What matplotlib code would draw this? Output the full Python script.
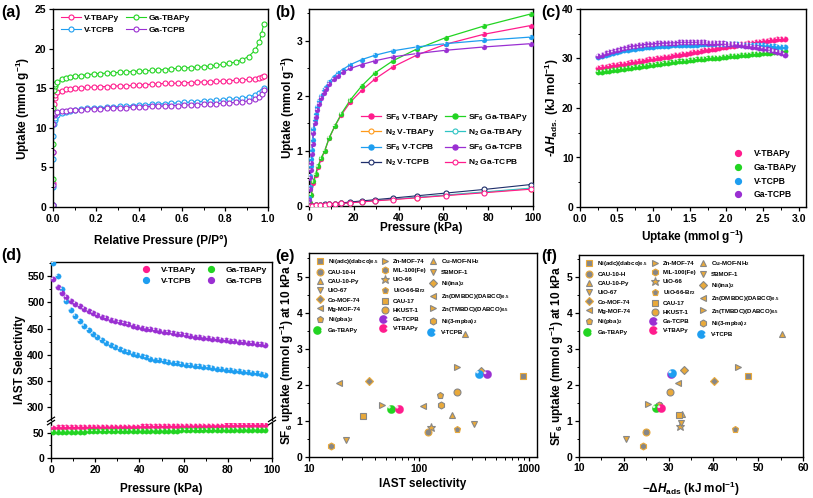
"""
Six-panel figure: N2 / SF6 isotherms, heat of adsorption, IAST selectivity,
and comparison with reported MOFs.
"""

import numpy as np
import matplotlib
matplotlib.use("Agg")
import matplotlib.pyplot as plt
from matplotlib.lines import Line2D
from matplotlib.transforms import offset_copy
from matplotlib.legend_handler import HandlerTuple
from matplotlib.ticker import MultipleLocator, LogLocator, NullFormatter

# ---------------------------------------------------------------------------
# Data
# ---------------------------------------------------------------------------
# (a) N2 77 K isotherms
P_a = [0.0001, 0.0005, 0.001, 0.002, 0.004, 0.007, 0.01, 0.02, 0.04, 0.06,
       0.08, 0.10, 0.13, 0.16, 0.19, 0.22, 0.25, 0.28, 0.31, 0.34, 0.37, 0.40,
       0.43, 0.46, 0.49, 0.52, 0.55, 0.58, 0.61, 0.64, 0.67, 0.70, 0.73, 0.76,
       0.79, 0.82, 0.85, 0.88, 0.91, 0.94, 0.96, 0.97, 0.98]
a_v_tbapy = [0.3, 3.0, 7.0, 11.0, 13.0, 13.8, 14.1, 14.5, 14.7, 14.85, 14.95,
             15.0, 15.05, 15.1, 15.15, 15.2, 15.2, 15.25, 15.3, 15.3, 15.35,
             15.4, 15.45, 15.5, 15.55, 15.6, 15.6, 15.65, 15.7, 15.7, 15.75,
             15.8, 15.8, 15.85, 15.9, 15.95, 16.0, 16.05, 16.1, 16.2, 16.3,
             16.4, 16.5]
a_ga_tbapy = [0.3, 3.5, 8.0, 12.5, 14.8, 15.3, 15.5, 15.8, 16.1, 16.3, 16.4,
              16.5, 16.6, 16.7, 16.8, 16.85, 16.9, 16.95, 17.0, 17.05, 17.1,
              17.15, 17.2, 17.25, 17.3, 17.35, 17.45, 17.5, 17.55, 17.6, 17.65,
              17.7, 17.8, 17.9, 18.0, 18.15, 18.3, 18.6, 19.0, 19.8, 20.8,
              21.9, 23.1]
a_v_tcpb = [0.2, 2.5, 6.0, 9.0, 10.5, 11.0, 11.3, 11.6, 11.9, 12.05, 12.15,
            12.25, 12.35, 12.45, 12.5, 12.55, 12.6, 12.65, 12.7, 12.75, 12.8,
            12.85, 12.9, 12.95, 13.0, 13.05, 13.1, 13.15, 13.2, 13.25, 13.3,
            13.35, 13.4, 13.45, 13.5, 13.6, 13.65, 13.75, 13.9, 14.15, 14.4,
            14.7, 15.0]
a_ga_tcpb = [0.2, 2.8, 7.0, 10.5, 11.6, 11.8, 11.9, 12.0, 12.1, 12.15, 12.2,
             12.25, 12.3, 12.35, 12.4, 12.4, 12.45, 12.5, 12.5, 12.55, 12.6,
             12.6, 12.65, 12.7, 12.7, 12.75, 12.8, 12.8, 12.85, 12.9, 12.9,
             12.95, 13.0, 13.05, 13.1, 13.15, 13.2, 13.3, 13.4, 13.6, 13.9,
             14.3, 14.8]

# (b) SF6 / N2 298 K isotherms
P_tb = [0.3, 1.0, 2.0, 3.0, 4.0, 5.5, 7.0, 9.0, 11.5, 14.5, 18.5, 23.5, 29.5,
        37.5, 48, 61, 78, 99]
sf6_v_tbapy = [0.05, 0.2, 0.42, 0.56, 0.7, 0.85, 1.0, 1.23, 1.45, 1.66, 1.89,
               2.1, 2.31, 2.53, 2.74, 2.94, 3.12, 3.28]
sf6_ga_tbapy = [0.05, 0.2, 0.45, 0.59, 0.72, 0.88, 1.0, 1.24, 1.45, 1.68, 1.93,
                2.18, 2.42, 2.64, 2.85, 3.06, 3.27, 3.49]
P_tc = [0.2, 0.4, 0.6, 0.8, 1.0, 1.3, 1.6, 2.0, 2.5, 3.0, 3.7, 4.5, 5.5, 6.5,
        7.5, 9.0, 11.0, 13.0, 15.0, 18.5, 23.5, 29.5, 37.5, 48, 61, 78, 99]
sf6_v_tcpb = [0.15, 0.35, 0.55, 0.72, 0.85, 1.02, 1.2, 1.4, 1.56, 1.68, 1.8,
              1.9, 2.0, 2.1, 2.17, 2.25, 2.35, 2.42, 2.48, 2.57, 2.66, 2.74,
              2.82, 2.89, 2.95, 3.01, 3.07]
sf6_ga_tcpb = [0.1, 0.3, 0.5, 0.65, 0.78, 0.95, 1.12, 1.33, 1.5, 1.62, 1.74,
               1.85, 1.96, 2.05, 2.12, 2.21, 2.3, 2.37, 2.43, 2.5, 2.57, 2.64,
               2.71, 2.77, 2.83, 2.89, 2.95]
P_n2 = [0.5, 1.5, 3, 5, 7, 9, 11.5, 14.5, 18.5, 23.5, 29.5, 37.5, 48, 61, 78, 99]
n2_v_tbapy = [0.002, 0.005, 0.01, 0.017, 0.023, 0.03, 0.037, 0.047, 0.06,
              0.076, 0.095, 0.12, 0.152, 0.193, 0.247, 0.315]
n2_ga_tbapy = [0.002, 0.005, 0.01, 0.017, 0.024, 0.031, 0.039, 0.049, 0.062,
               0.079, 0.099, 0.125, 0.158, 0.2, 0.255, 0.325]
n2_v_tcpb = [0.002, 0.006, 0.012, 0.02, 0.028, 0.035, 0.045, 0.057, 0.072,
             0.092, 0.115, 0.145, 0.185, 0.235, 0.3, 0.39]
n2_ga_tcpb = [0.002, 0.005, 0.01, 0.016, 0.022, 0.029, 0.036, 0.046, 0.058,
              0.074, 0.092, 0.117, 0.148, 0.188, 0.24, 0.305]

# (c) isosteric heat vs uptake
U_c = np.round(np.arange(0.25, 2.801, 0.05), 2)
qst_v_tbapy = [28.1, 28.2, 28.3, 28.4, 28.6, 28.7, 28.8, 28.9, 29.0, 29.2,
               29.3, 29.4, 29.5, 29.7, 29.8, 29.9, 30.0, 30.2, 30.3, 30.4,
               30.5, 30.7, 30.8, 30.9, 31.0, 31.2, 31.3, 31.4, 31.5, 31.7,
               31.8, 31.9, 32.0, 32.2, 32.3, 32.4, 32.5, 32.6, 32.8, 32.9,
               33.0, 33.1, 33.2, 33.3, 33.4, 33.5, 33.6, 33.7, 33.8, 33.9,
               33.9, 34.0]
qst_ga_tbapy = [27.2, 27.3, 27.4, 27.5, 27.6, 27.7, 27.8, 27.9, 28.0, 28.1,
                28.2, 28.3, 28.4, 28.5, 28.6, 28.7, 28.8, 28.9, 29.0, 29.1,
                29.2, 29.3, 29.4, 29.4, 29.5, 29.6, 29.7, 29.8, 29.9, 29.9,
                30.0, 30.1, 30.2, 30.2, 30.3, 30.4, 30.5, 30.5, 30.6, 30.7,
                30.7, 30.8, 30.9, 30.9, 31.0, 31.1, 31.1, 31.2, 31.3, 31.3,
                31.4, 31.5]
qst_v_tcpb = [30.4, 30.6, 30.8, 31.0, 31.2, 31.4, 31.5, 31.7, 31.8, 31.9,
              32.0, 32.1, 32.2, 32.3, 32.4, 32.4, 32.5, 32.5, 32.6, 32.6,
              32.7, 32.7, 32.7, 32.8, 32.8, 32.8, 32.8, 32.8, 32.9, 32.9,
              32.9, 32.9, 32.9, 32.9, 32.9, 32.9, 32.9, 32.9, 32.9, 32.8,
              32.8, 32.8, 32.8, 32.7, 32.7, 32.7, 32.6, 32.6, 32.5, 32.4,
              32.4, 32.3]
qst_ga_tcpb = [30.5, 30.8, 31.1, 31.4, 31.6, 31.8, 32.0, 32.2, 32.3, 32.5,
               32.6, 32.7, 32.8, 32.9, 33.0, 33.0, 33.1, 33.1, 33.2, 33.2,
               33.2, 33.2, 33.3, 33.3, 33.3, 33.3, 33.3, 33.3, 33.3, 33.3,
               33.2, 33.2, 33.2, 33.1, 33.1, 33.0, 33.0, 32.9, 32.8, 32.7,
               32.6, 32.5, 32.4, 32.3, 32.2, 32.0, 31.9, 31.7, 31.5, 31.3,
               31.1, 30.8]

# (d) IAST selectivity vs pressure
P_d = np.arange(1, 98, 2)
iast_v_tbapy = [60.0, 60.2, 60.3, 60.4, 60.5, 60.6, 60.7, 60.8, 60.9, 61.0,
                61.1, 61.2, 61.3, 61.4, 61.5, 61.6, 61.7, 61.8, 61.9, 62.0,
                62.1, 62.2, 62.3, 62.4, 62.5, 62.6, 62.7, 62.8, 62.9, 63.0,
                63.1, 63.2, 63.3, 63.4, 63.5, 63.6, 63.7, 63.8, 63.9, 64.0,
                64.1, 64.2, 64.3, 64.4, 64.5, 64.6, 64.7, 64.8, 65.0]
iast_ga_tbapy = [51.5, 51.6, 51.7, 51.8, 51.9, 52.0, 52.1, 52.2, 52.3, 52.4,
                 52.5, 52.6, 52.7, 52.8, 52.9, 53.0, 53.1, 53.2, 53.3, 53.4,
                 53.5, 53.6, 53.7, 53.7, 53.8, 53.9, 54.0, 54.1, 54.2, 54.3,
                 54.4, 54.5, 54.6, 54.7, 54.8, 54.9, 55.0, 55.1, 55.2, 55.3,
                 55.4, 55.5, 55.6, 55.7, 55.7, 55.8, 55.9, 55.9, 56.0]
iast_v_tcpb = [575, 550, 525, 502, 486, 474, 464, 455, 447, 440,
               434, 428, 423, 419, 415, 411, 408, 405, 402, 400,
               398, 395, 393, 391, 390, 388, 386, 385, 384, 382,
               381, 380, 379, 378, 377, 376, 375, 374, 373, 372,
               371, 370, 369, 368, 367, 366, 365, 364, 362]
iast_ga_tcpb = [544, 530, 519, 510, 503, 498, 493, 488, 484, 480,
                476, 473, 470, 467, 465, 462, 460, 458, 456, 454,
                452, 450, 449, 447, 446, 444, 443, 441, 440, 439,
                437, 436, 435, 434, 433, 432, 431, 430, 429, 428,
                427, 426, 425, 424, 423, 422, 421, 420, 419]

# (e)/(f) comparison with reported materials
mof_names = ["Ni(adc)(dabco)$_{0.5}$", "CAU-10-H", "CAU-10-Py", "UiO-67",
             "Co-MOF-74", "Mg-MOF-74", "Ni(pba)$_2$", "Zn-MOF-74",
             "MIL-100(Fe)", "UiO-66", "UiO-66-Br$_2$", "CAU-17", "HKUST-1",
             "Cu-MOF-NH$_2$", "SBMOF-1", "Ni(ina)$_2$",
             "Zn(DMBDC)(DABCO)$_{0.5}$", "Zn(TMBDC)(DABCO)$_{0.5}$",
             "Ni(3-mpba)$_2$"]
mof_sel = [887, 121, 198, 21.9, 34.9, 18.7, 155, 46.3, 15.7, 128, 219, 31,
           219, 261, 316, 363, 109, 219, 158]
mof_uptake = [2.24, 0.69, 1.18, 0.48, 2.10, 2.06, 1.71, 1.45, 0.31, 0.84,
              0.78, 1.15, 1.80, 3.42, 0.93, 2.40, 1.43, 2.50, 1.44]
mof_qst = [47.8, 25.0, 33.1, 20.5, 40.1, 32.0, np.nan, 25.3, 24.2, 32.6,
           44.8, 32.4, 30.3, 55.3, 32.7, 33.5, 27.6, 45.5, 27.9]

ours_names = ["Ga-TBAPy", "V-TBAPy", "V-TCPB", "Ga-TCPB"]
ours_sel = [55.5, 65.5, 351, 412]
ours_uptake = [1.34, 1.34, 2.31, 2.29]
ours_qst = [27.1, 28.2, 30.7, 30.5]

# ---------------------------------------------------------------------------
# Style
# ---------------------------------------------------------------------------
plt.rcParams.update({
    "font.family": ["Liberation Sans", "DejaVu Sans"],
    "font.weight": "bold",
    "axes.labelweight": "bold",
    "font.size": 7.5,
    "axes.labelsize": 8.5,
    "axes.linewidth": 1.0,
    "xtick.direction": "out",
    "ytick.direction": "out",
    "xtick.major.size": 3.2,
    "ytick.major.size": 3.2,
    "xtick.minor.size": 1.8,
    "ytick.minor.size": 1.8,
    "xtick.major.width": 0.9,
    "ytick.major.width": 0.9,
    "xtick.minor.width": 0.7,
    "ytick.minor.width": 0.7,
    "xtick.major.pad": 1.5,
    "ytick.major.pad": 1.5,
    "xtick.labelsize": 7.5,
    "ytick.labelsize": 7.5,
    "mathtext.fontset": "custom",
    "mathtext.rm": "Liberation Sans:bold",
    "mathtext.it": "Liberation Sans:italic:bold",
    "mathtext.bf": "Liberation Sans:bold",
    "mathtext.default": "bf",
    "legend.frameon": False,
})

PINK = "#FF1C8D"
GREEN = "#22D422"
BLUE = "#1E9EF0"
PURPLE = "#9A2FD2"
ORANGE = "#FF9A1A"
TEAL = "#2EC4C4"
NAVY = "#1E2E6B"
GOLD = "#E9A93A"
GREY = "#878787"

W, H = 813, 498
fig = plt.figure(figsize=(W / 100, H / 100), dpi=100, facecolor="white")


def px_axes(left, top, right, bottom):
    return fig.add_axes([left / W, 1 - bottom / H, (right - left) / W, (bottom - top) / H])


def spheres(ax, x, y, color, d, z):
    ax.scatter(x, y, s=d ** 2, c=color, edgecolors=color, linewidths=0.2, zorder=z)
    tr = offset_copy(ax.transData, fig=fig, x=-0.2 * d, y=0.2 * d, units="points")
    ax.scatter(x, y, s=(0.33 * d) ** 2, c="white", edgecolors="none", alpha=0.85,
               transform=tr, zorder=z + 0.1)


def sphere_handle(color, ms):
    base = Line2D([], [], ls="None", marker="o", ms=ms, mfc=color, mec=color)
    hl = Line2D([], [], ls="None", marker="o", ms=ms * 0.35, mfc="white", mec="none")
    return (base, hl)


def center_labels(ax, xl=None, yl=None):
    if xl is not None:
        ax.xaxis.label.set_verticalalignment("center")
        ax.xaxis.set_label_coords(0.5, xl)
    if yl is not None:
        ax.yaxis.label.set_verticalalignment("center")
        ax.yaxis.set_label_coords(yl, 0.5)


# ---------------------------------------------------------------------------
# (a)
# ---------------------------------------------------------------------------
ax_a = px_axes(53, 9, 268, 207)
for y, c in [(a_v_tbapy, PINK), (a_ga_tbapy, GREEN), (a_v_tcpb, BLUE), (a_ga_tcpb, PURPLE)]:
    ax_a.plot(P_a, y, "-o", color=c, mfc="white", mec=c, ms=3.6, mew=0.8, lw=0.8)
ax_a.set_xlim(0, 1.0)
ax_a.set_ylim(0, 25)
ax_a.xaxis.set_major_locator(MultipleLocator(0.2))
ax_a.xaxis.set_minor_locator(MultipleLocator(0.1))
ax_a.yaxis.set_major_locator(MultipleLocator(5))
ax_a.yaxis.set_minor_locator(MultipleLocator(2.5))
ax_a.xaxis.set_major_formatter(plt.FuncFormatter(lambda v, p: f"{v:.1f}"))
ax_a.set_xlabel("Relative Pressure (P/P°)")
ax_a.set_ylabel("Uptake (mmol g$^{-1}$)")
center_labels(ax_a, xl=-0.173, yl=-0.14)
h_a = [Line2D([], [], color=c, marker="o", mfc="white", mec=c, ms=3.6, mew=0.8, lw=0.8, label=l)
       for l, c in [("V-TBAPy", PINK), ("V-TCPB", BLUE), ("Ga-TBAPy", GREEN), ("Ga-TCPB", PURPLE)]]
ax_a.legend(handles=h_a, ncol=2, loc="upper left", bbox_to_anchor=(0.02, 0.99),
            fontsize=6, handlelength=2.4, handletextpad=0.4, columnspacing=0.8,
            labelspacing=0.5, borderaxespad=0.2, borderpad=0.2)

# ---------------------------------------------------------------------------
# (b)
# ---------------------------------------------------------------------------
ax_b = px_axes(309, 9, 533, 206)
sf6 = [(P_tb, sf6_v_tbapy, PINK), (P_tb, sf6_ga_tbapy, GREEN),
       (P_tc, sf6_v_tcpb, BLUE), (P_tc, sf6_ga_tcpb, PURPLE)]
for x, y, c in sf6:
    ax_b.plot(x, y, "-", color=c, lw=0.9, zorder=2)
    spheres(ax_b, x, y, c, 3.6, 3)
n2 = [(n2_v_tbapy, ORANGE), (n2_ga_tbapy, TEAL), (n2_v_tcpb, NAVY), (n2_ga_tcpb, PINK)]
for y, c in n2:
    ax_b.plot(P_n2, y, "-o", color=c, mfc="white", mec=c, ms=3.6, mew=0.8, lw=0.8, zorder=4)
ax_b.set_xlim(0, 100)
ax_b.set_ylim(0, 3.58)
ax_b.xaxis.set_major_locator(MultipleLocator(20))
ax_b.xaxis.set_minor_locator(MultipleLocator(10))
ax_b.yaxis.set_major_locator(MultipleLocator(1))
ax_b.yaxis.set_minor_locator(MultipleLocator(0.5))
ax_b.set_xlabel("Pressure (kPa)")
ax_b.set_ylabel("Uptake (mmol g$^{-1}$)")
center_labels(ax_b, xl=-0.113, yl=-0.095)


def filled_h(c, lab):
    return Line2D([], [], color=c, marker="o", mfc=c, mec=c, ms=3.6, lw=0.9, label=lab)


def open_h(c, lab):
    return Line2D([], [], color=c, marker="o", mfc="white", mec=c, ms=3.6, mew=0.8,
                  lw=0.9, label=lab)


h_b = [filled_h(PINK, "SF$_6$ V-TBAPy"), open_h(ORANGE, "N$_2$ V-TBAPy"),
       filled_h(BLUE, "SF$_6$ V-TCPB"), open_h(NAVY, "N$_2$ V-TCPB"),
       filled_h(GREEN, "SF$_6$ Ga-TBAPy"), open_h(TEAL, "N$_2$ Ga-TBAPy"),
       filled_h(PURPLE, "SF$_6$ Ga-TCPB"), open_h(PINK, "N$_2$ Ga-TCPB")]
ax_b.legend(handles=h_b, ncol=2, loc="lower right", bbox_to_anchor=(0.985, 0.185),
            fontsize=6, handlelength=2.4, handletextpad=0.4, columnspacing=0.7,
            labelspacing=0.55, borderaxespad=0.0, borderpad=0.2)

# ---------------------------------------------------------------------------
# (c)
# ---------------------------------------------------------------------------
ax_c = px_axes(580, 9, 806, 207)
for y, c in [(qst_v_tbapy, PINK), (qst_ga_tbapy, GREEN), (qst_v_tcpb, BLUE), (qst_ga_tcpb, PURPLE)]:
    spheres(ax_c, U_c, y, c, 3.9, 3)
ax_c.set_xlim(0, 3.09)
ax_c.set_ylim(0, 40)
ax_c.xaxis.set_major_locator(MultipleLocator(0.5))
ax_c.xaxis.set_minor_locator(MultipleLocator(0.25))
ax_c.yaxis.set_major_locator(MultipleLocator(10))
ax_c.yaxis.set_minor_locator(MultipleLocator(5))
ax_c.xaxis.set_major_formatter(plt.FuncFormatter(lambda v, p: f"{v:.1f}"))
ax_c.set_xlabel("Uptake (mmol g$^{-1}$)")
ax_c.set_ylabel(r"-$\Delta\mathit{H}_{\mathrm{ads.}}$ (kJ mol$^{-1}$)")
center_labels(ax_c, xl=-0.153, yl=-0.124)
h_c = [sphere_handle(c, 4.2) for c in (PINK, GREEN, BLUE, PURPLE)]
ax_c.legend(h_c, ["V-TBAPy", "Ga-TBAPy", "V-TCPB", "Ga-TCPB"], loc="lower right",
            bbox_to_anchor=(0.965, 0.03), fontsize=6.2, handlelength=1.2,
            handletextpad=0.8, labelspacing=0.55, borderaxespad=0, borderpad=0.2,
            handler_map={tuple: HandlerTuple(ndivide=None)})

# ---------------------------------------------------------------------------
# (d) broken y axis
# ---------------------------------------------------------------------------
ax_dt = px_axes(51, 262, 272, 419.5)
ax_db = px_axes(51, 422.5, 272, 458.3)
for ax in (ax_dt, ax_db):
    spheres(ax, P_d, iast_v_tbapy, PINK, 3.9, 3)
    spheres(ax, P_d, iast_ga_tbapy, GREEN, 3.9, 3)
    spheres(ax, P_d, iast_v_tcpb, BLUE, 3.9, 3)
    spheres(ax, P_d, iast_ga_tcpb, PURPLE, 3.9, 3)
    ax.set_xlim(0, 100)
    ax.xaxis.set_major_locator(MultipleLocator(20))
    ax.xaxis.set_minor_locator(MultipleLocator(10))
ax_dt.set_ylim(276.7, 577.2)
ax_db.set_ylim(0, 69.8)
ax_dt.yaxis.set_major_locator(MultipleLocator(50))
ax_dt.yaxis.set_minor_locator(MultipleLocator(25))
ax_db.yaxis.set_major_locator(MultipleLocator(50))
ax_db.yaxis.set_minor_locator(MultipleLocator(25))
ax_dt.spines["bottom"].set_visible(False)
ax_dt.tick_params(axis="x", which="both", bottom=False, labelbottom=False)
ax_db.spines["top"].set_visible(False)
ax_db.set_xlabel("Pressure (kPa)")
center_labels(ax_db, xl=-0.857)
fig.text(20 / W, 1 - 360 / H, "IAST Selectivity", rotation=90, ha="center",
         va="center", fontsize=8.5, fontweight="bold")
for xb in (51, 272):
    for dy in (-1.6, 1.6):
        fig.add_artist(Line2D([(xb - 3.5) / W, (xb + 3.5) / W],
                              [1 - (421 + dy + 2.2) / H, 1 - (421 + dy - 2.2) / H],
                              color="black", lw=0.9, transform=fig.transFigure))
h_d = [sphere_handle(c, 4.2) for c in (PINK, BLUE, GREEN, PURPLE)]
ax_dt.legend(h_d, ["V-TBAPy", "V-TCPB", "Ga-TBAPy", "Ga-TCPB"], ncol=2,
             loc="upper right", bbox_to_anchor=(0.985, 0.985), fontsize=6,
             handlelength=1.2, handletextpad=0.8, columnspacing=1.6,
             labelspacing=0.35, borderaxespad=0, borderpad=0.2,
             handler_map={tuple: HandlerTuple(ndivide=None)})

# ---------------------------------------------------------------------------
# (e) / (f) comparison panels
# ---------------------------------------------------------------------------
mof_marker = ["s", "o", "^", "v", "D", "<", "p", ">", "h", "*", "p", "s", "o",
              "^", "v", "D", "<", ">", "h"]
mof_grey = [True, True, False, False, True, False, False, False, True, False,
            True, False, False, False, False, False, False, False, False]
ours_col = [GREEN, PINK, BLUE, PURPLE]
MS = {"D": 4.0, "*": 6.4}


def comp_panel(ax, xs, ours_x, order):
    for i, name in enumerate(mof_names):
        fc, ec = (GREY, GOLD) if mof_grey[i] else (GOLD, GREY)
        ms = MS.get(mof_marker[i], 5.0)
        ax.plot([xs[i]], [mof_uptake[i]], ls="None", marker=mof_marker[i], ms=ms,
                mfc=fc, mec=ec, mew=0.8, zorder=3)
    for k in order:
        spheres(ax, [ours_x[k]], [ours_uptake[k]], ours_col[k], 6.0, 4 + order.index(k))
    handles, labels = [], []
    for i, name in enumerate(mof_names):
        fc, ec = (GREY, GOLD) if mof_grey[i] else (GOLD, GREY)
        ms = MS.get(mof_marker[i], 5.0)
        handles.append(Line2D([], [], ls="None", marker=mof_marker[i], ms=ms,
                              mfc=fc, mec=ec, mew=0.8))
        labels.append(name)
    sph = {n: sphere_handle(c, 5.2) for n, c in zip(ours_names, ours_col)}
    for pos, n in [(7, "Ga-TBAPy"), (14, "Ga-TCPB"), (15, "V-TBAPy"), (22, "V-TCPB")]:
        handles.insert(pos, sph[n])
        labels.insert(pos, n)
    ax.legend(handles, labels, ncol=3, loc="upper left", bbox_to_anchor=(0.025, 0.985),
              fontsize=4.4, handlelength=1.2, handletextpad=0.7, columnspacing=0.5,
              labelspacing=0.62, borderaxespad=0, borderpad=0.2,
              handler_map={tuple: HandlerTuple(ndivide=None)})
    ax.set_ylim(0, 5.65)
    ax.yaxis.set_major_locator(MultipleLocator(1))
    ax.yaxis.set_minor_locator(MultipleLocator(0.5))
    ax.set_ylabel("SF$_6$ uptake (mmol g$^{-1}$) at 10 kPa")


ax_e = px_axes(309, 253, 537, 457.3)
ax_e.set_xscale("log")
comp_panel(ax_e, mof_sel, ours_sel, [0, 1, 2, 3])
ax_e.set_xlim(10, 1180)
ax_e.xaxis.set_minor_locator(LogLocator(base=10, subs=np.arange(2, 10)))
ax_e.xaxis.set_minor_formatter(NullFormatter())
ax_e.xaxis.set_major_formatter(plt.FuncFormatter(lambda v, p: f"{v:.0f}"))
ax_e.set_xlabel("IAST selectivity")
center_labels(ax_e, xl=-0.131, yl=-0.095)

ax_f = px_axes(579, 255, 803, 456.7)
comp_panel(ax_f, mof_qst, ours_qst, [0, 1, 3, 2])
ax_f.set_ylim(0, 5.6)
ax_f.set_xlim(10, 60)
ax_f.xaxis.set_major_locator(MultipleLocator(10))
ax_f.xaxis.set_minor_locator(MultipleLocator(5))
ax_f.set_xlabel(r"−$\Delta\mathit{H}_{\mathrm{ads}}$ (kJ mol$^{-1}$)")
center_labels(ax_f, xl=-0.158, yl=-0.098)

# ---------------------------------------------------------------------------
# Panel letters
# ---------------------------------------------------------------------------
for lab, x, y in [("(a)", 1, 12.5), ("(b)", 275, 12.5), ("(c)", 541, 12.5),
                  ("(d)", 1, 255), ("(e)", 275, 256.5), ("(f)", 541, 256.5)]:
    fig.text(x / W, 1 - y / H, lab, fontsize=11.5, fontweight="bold",
             ha="left", va="center")

fig.savefig("out.png", dpi=100, facecolor="white")
